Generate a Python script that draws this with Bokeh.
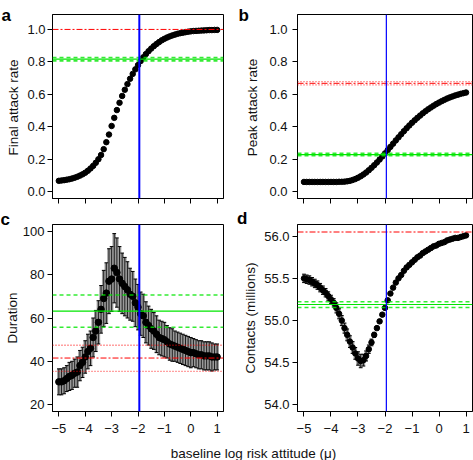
import math
from bokeh.plotting import figure
from bokeh.layouts import column, row
from bokeh.models import Span, Label, CustomLabelingPolicy
from bokeh.embed import file_html
from bokeh.resources import INLINE

# ---------------- data ----------------
mu = [-5.0, -4.9, -4.8, -4.7, -4.6, -4.5, -4.4, -4.3, -4.2, -4.1,
      -4.0, -3.9, -3.8, -3.7, -3.6, -3.5, -3.4, -3.3, -3.2, -3.1,
      -3.0, -2.9, -2.8, -2.7, -2.6, -2.5, -2.4, -2.3, -2.2, -2.1,
      -2.0, -1.9, -1.8, -1.7, -1.6, -1.5, -1.4, -1.3, -1.2, -1.1,
      -1.0, -0.9, -0.8, -0.7, -0.6, -0.5, -0.4, -0.3, -0.2, -0.1,
      0.0, 0.1, 0.2, 0.3, 0.4, 0.5, 0.6, 0.7, 0.8, 0.9, 1.0]

final_attack = [0.067, 0.069, 0.071, 0.074, 0.077, 0.081, 0.086, 0.092, 0.099, 0.107,
                0.117, 0.129, 0.143, 0.159, 0.178, 0.200, 0.226, 0.262, 0.305, 0.352,
                0.405, 0.455, 0.503, 0.548, 0.590, 0.628, 0.663, 0.696, 0.726, 0.754,
                0.780, 0.805, 0.828, 0.848, 0.866, 0.882, 0.897, 0.910, 0.922, 0.933,
                0.942, 0.950, 0.957, 0.963, 0.968, 0.973, 0.977, 0.980, 0.983, 0.986,
                0.988, 0.990, 0.991, 0.992, 0.993, 0.994, 0.995, 0.996, 0.996, 0.997, 0.997]

peak_attack = [0.060, 0.060, 0.060, 0.060, 0.060, 0.060, 0.060, 0.060, 0.060, 0.060,
               0.060, 0.060, 0.060, 0.061, 0.061, 0.062, 0.064, 0.067, 0.072, 0.078,
               0.086, 0.095, 0.106, 0.118, 0.132, 0.147, 0.163, 0.180, 0.198, 0.217,
               0.236, 0.256, 0.276, 0.296, 0.316, 0.335, 0.354, 0.373, 0.391, 0.408,
               0.425, 0.440, 0.455, 0.469, 0.483, 0.496, 0.508, 0.519, 0.530, 0.540,
               0.549, 0.558, 0.566, 0.574, 0.581, 0.587, 0.593, 0.598, 0.603, 0.607, 0.611]

duration = [30.5, 30.5, 31.0, 32.0, 33.0, 33.5, 34.5, 35.0, 38.0, 39.5,
            42.0, 44.5, 46.0, 51.0, 54.0, 58.0, 64.0, 69.0, 71.5, 77.0,
            78.0, 83.0, 81.0, 78.0, 76.0, 74.5, 73.0, 71.0, 70.0, 67.0,
            65.0, 62.0, 61.0, 58.0, 56.5, 55.0, 54.0, 52.5, 51.0, 50.5,
            50.0, 49.0, 48.0, 47.5, 47.0, 46.5, 46.0, 45.5, 45.0, 44.5,
            44.0, 44.0, 43.5, 43.0, 43.0, 42.5, 42.5, 42.5, 42.0, 42.0, 42.0]

duration_err = [6.0, 6.0, 6.0, 6.0, 6.5, 6.5, 6.5, 7.0, 7.0, 7.0,
                7.5, 8.0, 8.0, 9.0, 9.5, 10.0, 11.0, 13.0, 14.0, 15.0,
                15.0, 16.0, 16.0, 15.0, 14.0, 13.5, 13.0, 12.0, 11.5, 11.0,
                10.5, 10.0, 10.0, 9.5, 9.0, 9.0, 8.5, 8.5, 8.0, 8.0,
                8.0, 7.5, 7.5, 7.5, 7.0, 7.0, 7.0, 7.0, 7.0, 7.0,
                7.0, 6.5, 6.5, 6.5, 6.5, 6.5, 6.5, 6.5, 6.5, 6.0, 6.0]

contacts = [55.50, 55.49, 55.48, 55.46, 55.44, 55.42, 55.39, 55.36, 55.33, 55.29,
            55.25, 55.21, 55.15, 55.08, 55.00, 54.91, 54.83, 54.75, 54.68, 54.61,
            54.55, 54.52, 54.53, 54.58, 54.66, 54.74, 54.83, 54.91, 54.99, 55.07,
            55.15, 55.24, 55.32, 55.39, 55.45, 55.50, 55.54, 55.59, 55.63, 55.66,
            55.69, 55.72, 55.75, 55.77, 55.80, 55.82, 55.84, 55.86, 55.88, 55.89,
            55.91, 55.92, 55.93, 55.95, 55.96, 55.97, 55.98, 55.98, 55.99, 56.00, 56.01]

contacts_err = [0.05, 0.05, 0.05, 0.05, 0.05, 0.05, 0.05, 0.05, 0.05, 0.05,
                0.05, 0.05, 0.06, 0.06, 0.06, 0.06, 0.07, 0.07, 0.07, 0.07,
                0.08, 0.08, 0.07, 0.06, 0.05, 0.04, 0.03, 0.02, 0.02, 0.02,
                0.015, 0.015, 0.015, 0.015, 0.015, 0.015, 0.015, 0.015, 0.015, 0.015,
                0.015, 0.015, 0.015, 0.015, 0.015, 0.015, 0.015, 0.015, 0.015, 0.015,
                0.015, 0.015, 0.015, 0.015, 0.015, 0.015, 0.015, 0.015, 0.015, 0.015, 0.015]

baseline_mu = -1.95

# reference lines: [mean, lower, upper]
a_red = [1.0]
a_green = [0.817, 0.806, 0.827]
b_red = [0.668, 0.658, 0.678]
b_green = [0.229, 0.222, 0.236]
c_red = [41.5, 35.3, 47.4]
c_green = [63.2, 55.7, 70.6]
d_red = [56.05]
d_green = [55.19, 55.155, 55.222]

panel_letters = ["a", "b", "c", "d"]
y_titles = ["Final attack rate", "Peak attack rate", "Duration", "Contacts (millions)"]
x_title = "baseline log risk attitude (\u03bc)"
x_ticks = [-5, -4, -3, -2, -1, 0, 1]
x_tick_labels = ["\u22125", "\u22124", "\u22123", "\u22122", "\u22121", "0", "1"]
ab_ticks = [0.0, 0.2, 0.4, 0.6, 0.8, 1.0]
ab_tick_labels = ["0.0", "0.2", "0.4", "0.6", "0.8", "1.0"]
c_ticks = [20, 40, 60, 80, 100]
c_tick_labels = ["20", "40", "60", "80", "100"]
d_ticks = [54.0, 54.5, 55.0, 55.5, 56.0]
d_tick_labels = ["54.0", "54.5", "55.0", "55.5", "56.0"]

# ---------------- styling helpers ----------------
FONT = "Liberation Sans"
XR = (-5.24, 1.24)
RED = "#ff0000"
GREEN = "#00e600"
BLUE = "#0000ff"
TXT = "#111111"

NO_LABELS = CustomLabelingPolicy(code="""
try {
  for (const i of Array.from(indices)) { indices.unset(i) }
  return indices
} catch (e) {
  return []
}
""")


def make_fig(w, h, yr, bl, br, bt, bb, yticks, ylabels, ylab_standoff, show_x):
    p = figure(width=w, height=h, x_range=XR, y_range=yr, output_backend="svg",
               toolbar_location=None, min_border_left=bl, min_border_right=br,
               min_border_top=bt, min_border_bottom=bb)
    p.xgrid.visible = False
    p.ygrid.visible = False
    p.outline_line_color = "black"
    p.outline_line_width = 1
    p.outline_line_alpha = 1
    p.background_fill_color = "white"
    p.border_fill_color = "white"
    for ax in (p.xaxis[0], p.yaxis[0]):
        ax.axis_line_color = "black"
        ax.major_tick_line_color = "black"
        ax.major_tick_out = 5
        ax.major_tick_in = 0
        ax.minor_tick_line_color = None
        ax.major_label_text_font = FONT
        ax.major_label_text_font_size = "13px"
        ax.major_label_text_color = TXT
    p.xaxis.ticker = x_ticks
    p.xaxis.major_label_overrides = dict(zip(x_ticks, x_tick_labels))
    if show_x:
        p.xaxis.major_label_standoff = 7
    else:
        p.xaxis.major_label_policy = NO_LABELS
        p.xaxis.major_label_text_font_size = "1px"
        p.xaxis.major_label_standoff = 0
    p.yaxis.ticker = yticks
    p.yaxis.major_label_overrides = dict(zip(yticks, ylabels))
    p.yaxis.major_label_standoff = ylab_standoff
    return p


def strip(w, h):
    s = figure(width=w, height=h, x_range=(0, w), y_range=(0, h),
               output_backend="svg", toolbar_location=None, min_border=0,
               x_axis_type=None, y_axis_type=None)
    s.outline_line_color = None
    s.xgrid.visible = False
    s.ygrid.visible = False
    return s


def hline(p, y, color, dash, width=1.0, alpha=1.0):
    p.add_layout(Span(location=y, dimension="width", line_color=color,
                      line_dash=dash, line_width=width, line_alpha=alpha))


def vline(p, x, width):
    p.add_layout(Span(location=x, dimension="height", line_color=BLUE, line_width=width))


def letter(s, txt, x, y):
    s.add_layout(Label(x=x, y=y, text=txt, text_font=FONT, text_font_size="17px",
                       text_font_style="bold", text_color="black",
                       text_baseline="alphabetic", text_align="left"))


def ytitle(s, txt, x, y):
    s.add_layout(Label(x=x, y=y, text=txt, text_font=FONT, text_font_size="13.5px",
                       text_color=TXT, angle=math.pi / 2, angle_units="rad",
                       text_baseline="alphabetic", text_align="center"))


def bands(p, red, green, red_dash_mean="6 2 2 2"):
    hline(p, red[0], RED, red_dash_mean, 1.0)
    for v in red[1:]:
        hline(p, v, RED, "1 2", 1.3, 0.75)
    hline(p, green[0], GREEN, "solid", 1.2)
    for v in green[1:]:
        hline(p, v, GREEN, "4 3", 1.6, 0.8)


def errbars(p, xs, lo, hi, cap):
    p.segment(x0=xs, y0=lo, x1=xs, y1=hi, line_color="#9a9a9a", line_width=3.5)
    p.segment(x0=xs, y0=lo, x1=xs, y1=hi, line_color="black", line_width=0.8)
    p.segment(x0=[m - cap for m in xs], y0=hi, x1=[m + cap for m in xs], y1=hi,
              line_color="black", line_width=1)
    p.segment(x0=[m - cap for m in xs], y0=lo, x1=[m + cap for m in xs], y1=lo,
              line_color="black", line_width=1)


H_TOP, H_BOT = 207, 233
H_ALL = H_TOP + H_BOT

# ---------------- left strip: letters a, c and y titles ----------------
sl = strip(19, H_ALL)
letter(sl, panel_letters[0], 1, H_ALL - 15.0)
letter(sl, panel_letters[2], 0, H_ALL - 218.5)
ytitle(sl, y_titles[0], 12.5, H_ALL - 107)
ytitle(sl, y_titles[2], 12.0, H_ALL - 317.5)

# ---------------- middle strip: letters b, d and y titles ----------------
sm = strip(24, H_ALL)
letter(sm, panel_letters[1], 2, H_ALL - 15.0)
letter(sm, panel_letters[3], 0.5, H_ALL - 217.5)
ytitle(sm, y_titles[1], 16.0, H_ALL - 107)
ytitle(sm, y_titles[3], 14.0, H_ALL - 317.5)

# ---------------- panel a ----------------
pa = make_fig(217, H_TOP, (-0.042, 1.092), 29, 13, 14, 7,
              ab_ticks, ab_tick_labels, 2, False)
bands(pa, a_red, a_green)
pa.scatter(mu, final_attack, size=5.5, color="black")
vline(pa, baseline_mu, 2)

# ---------------- panel b ----------------
pb = make_fig(213, H_TOP, (-0.042, 1.092), 37, 1, 14, 7,
              ab_ticks, ab_tick_labels, 5, False)
bands(pb, b_red, b_green)
pb.scatter(mu, peak_attack, size=5.5, color="black")
vline(pb, baseline_mu, 1.2)

# ---------------- panel c ----------------
pc = make_fig(217, H_BOT, (16.8, 103.2), 29, 13, 17, 29,
              c_ticks, c_tick_labels, 3, True)
bands(pc, c_red, c_green)
c_lo = [m - e for m, e in zip(duration, duration_err)]
c_hi = [m + e for m, e in zip(duration, duration_err)]
errbars(pc, mu, c_lo, c_hi, 0.07)
pc.scatter(mu, duration, size=6.5, color="black")
vline(pc, baseline_mu, 2)

# ---------------- panel d ----------------
pd_ = make_fig(213, H_BOT, (53.921, 56.139), 37, 1, 17, 29,
               d_ticks, d_tick_labels, 3, True)
bands(pd_, d_red, d_green)
d_lo = [m - e for m, e in zip(contacts, contacts_err)]
d_hi = [m + e for m, e in zip(contacts, contacts_err)]
errbars(pd_, mu, d_lo, d_hi, 0.07)
pd_.scatter(mu, contacts, size=5.5, color="black")
vline(pd_, baseline_mu, 1.2)

# ---------------- shared x title ----------------
pe = strip(473, 20)
pe.add_layout(Label(x=253, y=7.5, text=x_title,
                    text_font=FONT, text_font_size="13.5px", text_color=TXT,
                    text_align="center", text_baseline="middle"))

layout = column(row(sl, column(pa, pc), sm, column(pb, pd_)), pe)

with open("out.html", "w") as f:
    f.write(file_html(layout, INLINE))
